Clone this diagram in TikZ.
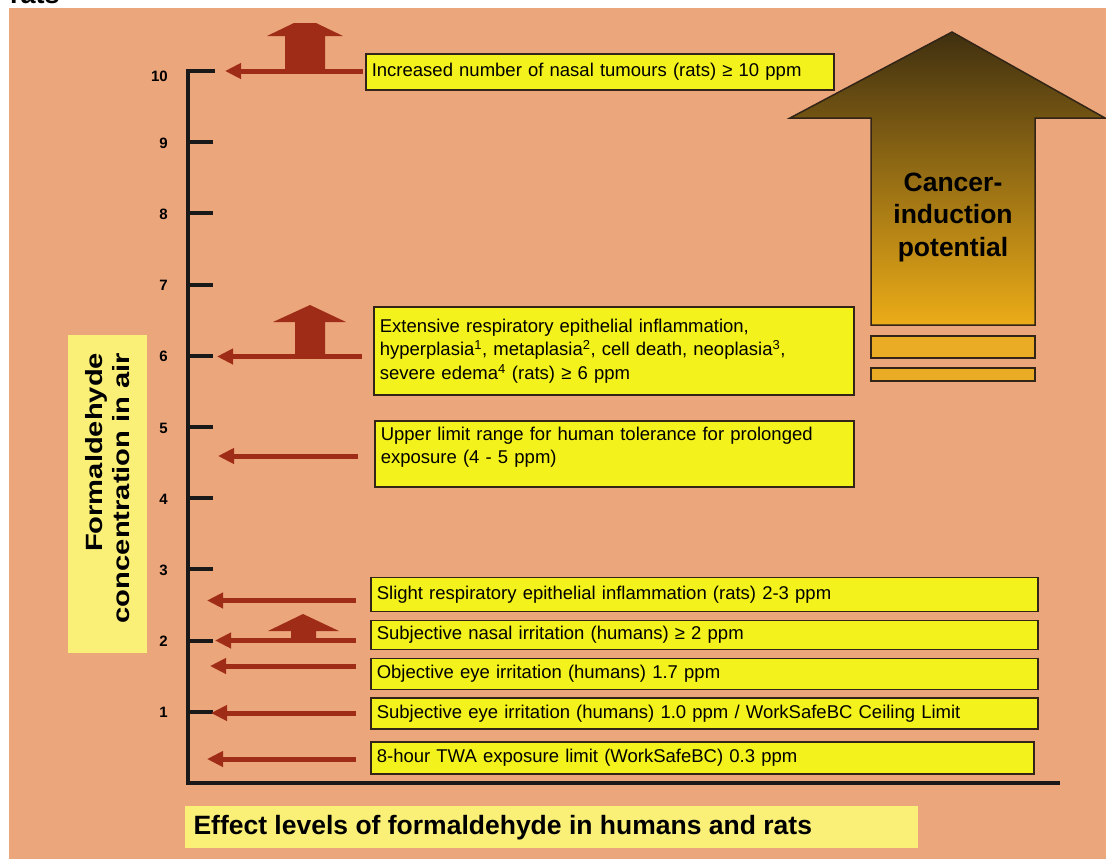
\documentclass[tikz,border=0pt]{standalone}
\usepackage{fontspec}
\setmainfont{Liberation Sans}
\usetikzlibrary{arrows.meta}
\definecolor{bg}{RGB}{236,166,124}
\definecolor{boxy}{RGB}{244,242,28}
\definecolor{paley}{RGB}{250,240,120}
\definecolor{arr}{RGB}{158,44,22}
\definecolor{edge}{RGB}{50,36,22}
\definecolor{ctop}{RGB}{64,48,16}
\definecolor{cbot}{RGB}{236,172,24}
\definecolor{barf}{RGB}{234,172,36}
\begin{document}
\begin{tikzpicture}[x=1pt,y=-1pt,
  ybox/.style={draw=edge, fill=boxy, line width=1.6pt, anchor=west, align=left,
    inner xsep=5pt, inner ysep=0pt, font=\fontsize{18.5}{23.5}\selectfont},
  harrow/.style={draw=arr, line width=5pt, -{Triangle[length=16pt,width=15pt]}},
  uparrow/.style={fill=arr},
  axisline/.style={line width=4pt, draw=black!90},
  ticklab/.style={anchor=east, inner sep=0pt, font=\bfseries\fontsize{15}{15}\selectfont},
  bigtext/.style={font=\bfseries\fontsize{26.5}{32.5}\selectfont, align=center},
  barbox/.style={draw=edge, fill=barf, line width=1.5pt},
]
\useasboundingbox (0,0) rectangle (1106,860);
\fill[white] (0,0) rectangle (1106,860);
\begin{scope}
  \clip (0,0) rectangle (1106,8);
  \node[anchor=base west, inner sep=0pt, font=\bfseries\fontsize{27}{27}\selectfont] (cap) at (10,3) {rats};
\end{scope}
\fill[bg] (9,8) rectangle (1106,859);

% axis
\draw[axisline] (215,71) -- (188,71) -- (188,783) -- (1060,783);
\foreach \k in {1,...,9} {
  \draw[axisline] (188,{783-71.2*\k}) -- (213,{783-71.2*\k});
}
\foreach \k in {1,...,9} {
  \node[ticklab] (l\k) at (168,{784-71.2*\k}) {\k};
}
\node[ticklab] (l10) at (168,76) {10};

% y label
\fill[paley] (68,335) rectangle (147,653);
\node[rotate=90, inner sep=0pt, font=\bfseries\fontsize{23.5}{27}\selectfont] (ylab) at (111,488)
  {\scalebox{1.24}[1]{\begin{tabular}{@{}r@{}}Formaldehyde\\concentration in air\end{tabular}}};

% title
\fill[paley] (185,806) rectangle (918,848);
\node[anchor=west, font=\bfseries\fontsize{26.5}{26.5}\selectfont] (title) at (190,828) {Effect levels of formaldehyde in humans and rats};

% big arrow
\draw[edge, line width=1.5pt, top color=ctop, bottom color=cbot]
  (952,32) -- (1105,118) -- (1035,118) -- (1035,325) -- (871,325) -- (871,118) -- (790,118) -- cycle;
\node[bigtext] (cancer) at (953,217) {Cancer-\\induction\\potential};
\draw[barbox] (871,336) rectangle (1035,358);
\draw[barbox] (871,368) rectangle (1035,381);

% boxes
\node[ybox, minimum width=468pt, minimum height=36pt, text width=456pt] (b10) at (365,72)
  {Increased number of nasal tumours (rats) ≥ 10 ppm};
\node[ybox, minimum width=480pt, minimum height=88pt, text width=468pt] (b6) at (373,351)
  {Extensive respiratory epithelial inflammation,\\hyperplasia\textsuperscript{1}, metaplasia\textsuperscript{2}, cell death, neoplasia\textsuperscript{3},\\severe edema\textsuperscript{4} (rats) ≥ 6 ppm};
\node[ybox, minimum width=479pt, minimum height=66pt, text width=467pt, text depth=41pt] (b45) at (374,454)
  {Upper limit range for human tolerance for prolonged\\exposure (4 - 5 ppm)};
\node[ybox, minimum width=667pt, minimum height=34pt, text width=655pt] (b25) at (370,594.5)
  {Slight respiratory epithelial inflammation (rats) 2-3 ppm};
\node[ybox, minimum width=667pt, minimum height=29pt, text width=655pt] (b2) at (370,635)
  {Subjective nasal irritation (humans) ≥ 2 ppm};
\node[ybox, minimum width=667pt, minimum height=31pt, text width=655pt] (b17) at (370,674)
  {Objective eye irritation (humans) 1.7 ppm};
\node[ybox, minimum width=667pt, minimum height=31pt, text width=655pt] (b1) at (370,713.5)
  {Subjective eye irritation (humans) 1.0 ppm / WorkSafeBC Ceiling Limit};
\node[ybox, minimum width=663pt, minimum height=32pt, text width=651pt] (b03) at (370,758)
  {8-hour TWA exposure limit (WorkSafeBC) 0.3 ppm};

% up arrows
\fill[uparrow] (294,23) -- (316,23) -- (343,36) -- (325,36) -- (325,71) -- (285,71) -- (285,36) -- (267,36) -- cycle;
\fill[uparrow] (310,305) -- (346,322) -- (325,322) -- (325,357) -- (295,357) -- (295,322) -- (273,322) -- cycle;
\fill[uparrow] (303,614) -- (339,631) -- (316,631) -- (316,641) -- (291,641) -- (291,631) -- (268,631) -- cycle;

% arrow tips and tails
\coordinate (t10) at (225,71);
\coordinate (t6) at (217,356.5);
\coordinate (t45) at (218,456);
\coordinate (t25) at (207,600.5);
\coordinate (t2) at (215,640.5);
\coordinate (t17) at (210,666);
\coordinate (t1) at (211,713);
\coordinate (t03) at (207,759);
\coordinate (s10) at ([xshift=-2pt]b10.west);
\coordinate (s6) at ([xshift=-11pt]b6.west);
\coordinate (s45) at ([xshift=-16pt]b45.west);
\coordinate (s25) at ([xshift=-14pt]b25.west);
\coordinate (s2) at ([xshift=-14pt]b2.west);
\coordinate (s17) at ([xshift=-14pt]b17.west);
\coordinate (s1) at ([xshift=-14pt]b1.west);
\coordinate (s03) at ([xshift=-14pt]b03.west);
\foreach \n in {10,6,45,25,2,17,1,03} {
  \draw[harrow] (s\n |- t\n) -- (t\n);
}
\end{tikzpicture}
\end{document}
